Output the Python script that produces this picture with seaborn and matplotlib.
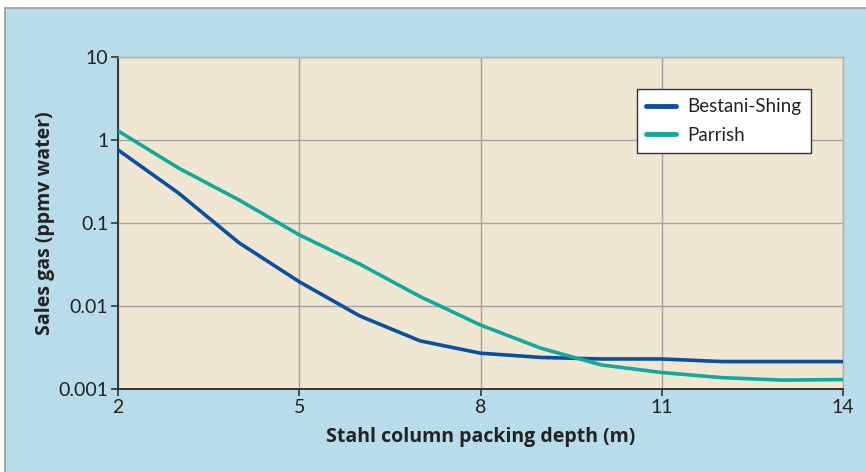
import numpy as np
import pandas as pd
import seaborn as sns
import matplotlib
matplotlib.use("Agg")
import matplotlib.pyplot as plt
from matplotlib.patches import Rectangle
from matplotlib.ticker import FixedLocator, FixedFormatter, NullLocator

depth = [2, 3, 4, 5, 6, 7, 8, 9, 10, 11, 12, 13, 14]
bestani_shing = [0.76, 0.23, 0.058, 0.0196, 0.0076, 0.0038, 0.0027, 0.0024,
                 0.0023, 0.0023, 0.00214, 0.00214, 0.00214]
parrish = [1.29, 0.46, 0.19, 0.072, 0.032, 0.013, 0.0059, 0.0031,
           0.00195, 0.00158, 0.00137, 0.00128, 0.0013]
series_names = ["Bestani-Shing", "Parrish"]
x_ticks = [2, 5, 8, 11, 14]
y_ticks = [0.001, 0.01, 0.1, 1, 10]
y_tick_labels = ["0.001", "0.01", "0.1", "1", "10"]

df = pd.DataFrame({
    "depth": depth * 2,
    "value": bestani_shing + parrish,
    "series": [series_names[0]] * len(depth) + [series_names[1]] * len(depth),
})

sns.set_theme(style="white")
plt.rcParams["font.family"] = ["Lato", "DejaVu Sans"]

fig = plt.figure(figsize=(8.66, 4.72), dpi=100)
fig.patch.set_facecolor("white")
bg = Rectangle((5 / 866, -0.01), 1.0, 1 - 8 / 472 + 0.01,
               transform=fig.transFigure, facecolor="#b8dcea",
               edgecolor="#9a9a9a", linewidth=1.2, zorder=-10)
fig.patches.append(bg)
ax = fig.add_axes([118 / 866, 1 - 389 / 472, (843 - 118) / 866, (389 - 57) / 472])
ax.set_zorder(5)
ax.set_facecolor("#f0e7d3")

palette = {"Bestani-Shing": "#0b4f9e", "Parrish": "#14a89a"}
sns.lineplot(data=df, x="depth", y="value", hue="series", palette=palette,
             linewidth=2.6, ax=ax, zorder=3)

ax.set_yscale("log")
ax.set_xlim(2, 14)
ax.set_ylim(0.001, 10)
ax.xaxis.set_major_locator(FixedLocator(x_ticks))
ax.yaxis.set_major_locator(FixedLocator(y_ticks))
ax.yaxis.set_major_formatter(FixedFormatter(y_tick_labels))
ax.yaxis.set_minor_locator(NullLocator())
ax.grid(True, color="#a3a3a3", linewidth=1.0)
ax.set_axisbelow(True)

for s in ["left", "bottom"]:
    ax.spines[s].set_color("#333333")
    ax.spines[s].set_linewidth(1.4)
for s in ["top", "right"]:
    ax.spines[s].set_color("#b0b0b0")
    ax.spines[s].set_linewidth(1.0)

ax.tick_params(axis="both", which="major", length=5, width=1.2, color="#333333",
               labelsize=14, labelcolor="#222222", direction="out", pad=2)
ax.tick_params(axis="x", bottom=True)
ax.tick_params(axis="y", left=True)

label_font = dict(family=["Open Sans", "DejaVu Sans"], fontsize=14,
                  fontweight="bold", color="#222222")
ax.set_xlabel("Stahl column packing depth (m)", labelpad=8, **label_font)
ax.set_ylabel("Sales gas (ppmv water)", labelpad=2, **label_font)

leg = ax.legend(loc="upper left", bbox_to_anchor=((637 - 118) / 725, 1 - (89 - 57) / 332),
                frameon=True, fancybox=False, fontsize=13.5, title=None,
                handlelength=1.6, handletextpad=0.6, borderpad=0.5, labelspacing=0.6,
                borderaxespad=0)
leg.get_frame().set_edgecolor("#333333")
leg.get_frame().set_facecolor("white")
leg.get_frame().set_alpha(1)
leg.get_frame().set_linewidth(1.0)
for line in leg.get_lines():
    line.set_linewidth(3.5)
for t in leg.get_texts():
    t.set_color("#222222")

fig.savefig("out.png", dpi=100)
